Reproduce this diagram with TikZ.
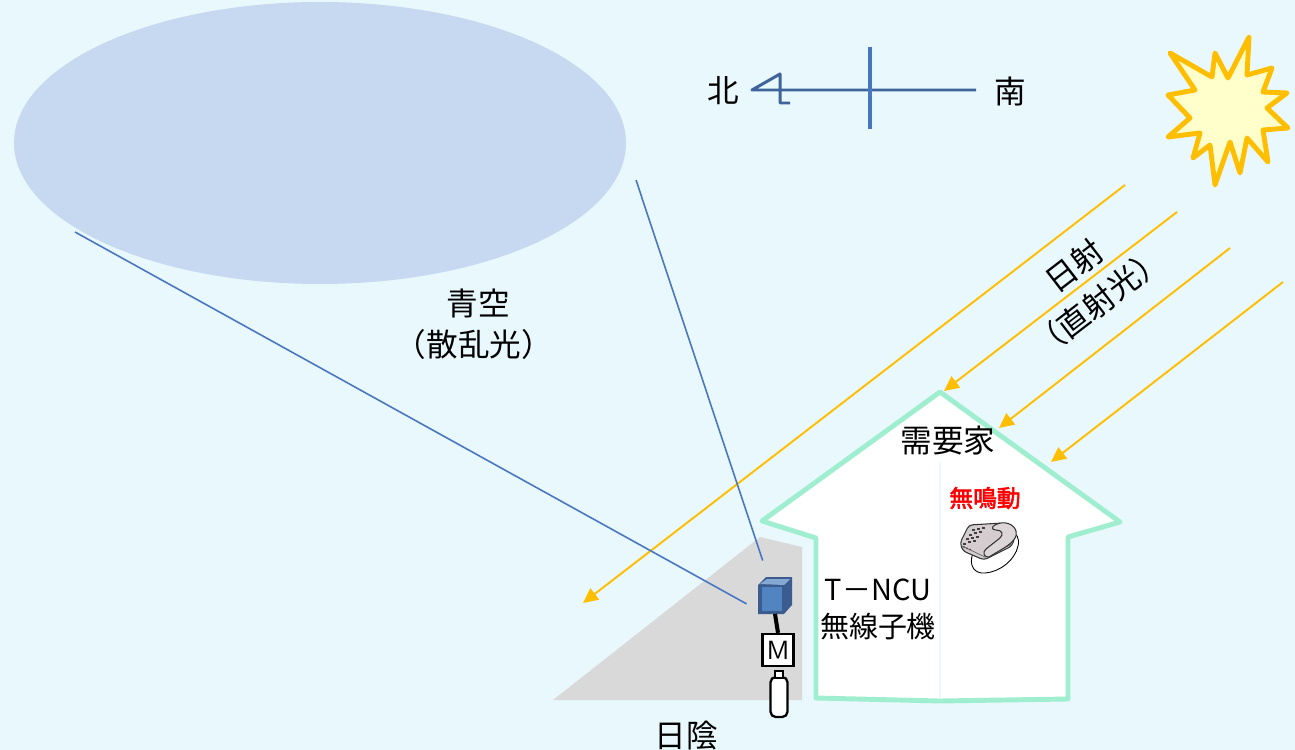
\documentclass[tikz,border=0pt]{standalone}
\usepackage{fontspec}
\setmainfont{Noto Sans CJK JP}
\newfontfamily\jpbold[FakeBold=2.5]{Noto Sans CJK JP}
\usetikzlibrary{arrows.meta}
\definecolor{skybg}{RGB}{233,248,252}
\definecolor{skyblue}{RGB}{198,217,240}
\definecolor{sunray}{RGB}{255,190,0}
\definecolor{sunfill}{RGB}{255,255,204}
\definecolor{mint}{RGB}{160,238,208}
\definecolor{viewblue}{RGB}{72,118,192}
\definecolor{compass}{RGB}{62,100,155}
\definecolor{shadegray}{RGB}{217,217,217}
\definecolor{cubedark}{RGB}{58,92,142}
\definecolor{cubeface}{RGB}{82,132,194}
\definecolor{phonegray}{RGB}{212,204,206}

\begin{document}
\begin{tikzpicture}[x=0.02cm,y=-0.02cm,font=\fontsize{18}{21}\selectfont,
  ray/.style={draw=sunray,line width=1.1pt,-{Triangle[length=8.5pt,width=8pt]}},
  view/.style={draw=viewblue,line width=0.9pt},
  lbl/.style={inner sep=1pt,align=center},
  meterbox/.style={draw=black,line width=1.3pt,fill=white,minimum width=0.62cm,minimum height=0.64cm,inner sep=0pt,font=\sffamily\fontsize{15}{15}\selectfont},
  gasbox/.style={draw=black,line width=1.3pt,fill=white,rounded corners=3pt,minimum width=0.34cm,minimum height=0.8cm,inner sep=0pt}]
  \fill[skybg] (0,0) rectangle (1295,750);
  \useasboundingbox (0,0) rectangle (1295,750);

  % sky dome and the shaded ground
  \fill[skyblue] (320,143) ellipse [x radius=306,y radius=141];
  \fill[shadegray] (553,700) -- (760,537) -- (802,547) -- (802,700) -- cycle;

  % house
  \draw[mint,line width=2.8pt,fill=white,line join=round]
    (940,392) -- (1120,522) -- (1068,537) -- (1068,699) -- (940,701)
    -- (816,698) -- (816,538) -- (762,521) -- cycle;
  \draw[skybg,line width=1.4pt] (940,462) -- (940,698);
  \coordinate (roof1) at (944,391);
  \coordinate (roof2) at (999,428);
  \coordinate (roof3) at (1051,462);

  % sun
  \filldraw[draw=sunray,fill=sunfill,line width=2.8pt,line join=round]
    (1249,37) -- (1247,75) -- (1272,68) -- (1263,92) -- (1287,93) -- (1267,108)
    -- (1288,128) -- (1263,130) -- (1268,162) -- (1247,138) -- (1240,173)
    -- (1230,142) -- (1215,185) -- (1210,145) -- (1193,158) -- (1200,133)
    -- (1168,137) -- (1190,118) -- (1168,95) -- (1195,90) -- (1170,53)
    -- (1212,77) -- (1215,53) -- (1228,78) -- cycle;

  % direct sunlight
  \coordinate (s0) at (1125,185);
  \coordinate (s1) at (1177,212);
  \coordinate (s2) at (1230,248);
  \coordinate (s3) at (1283,282);
  \coordinate (ground) at (583,603);
  \draw[ray] (s0) -- (ground);
  \draw[ray] (s1) -- (roof1);
  \draw[ray] (s2) -- (roof2);
  \draw[ray] (s3) -- (roof3);
  \node[lbl,rotate=37.6] (sunlbl) at (1074,266) {日射};
  \node[lbl,rotate=37.6] (sunsub) at (1099,302) {（直射光）};

  % compass
  \coordinate (north) at (752,90);
  \coordinate (south) at (976,90);
  \draw[compass,line width=1.7pt,line join=round] (790,103) -- (780,103) -- (780,74) -- (north) -- (south);
  \draw[viewblue,line width=2.2pt] (870,47) -- (870,129);
  \node[lbl] (nlbl) at (723,91) {北};
  \node[lbl] (slbl) at (1010,91) {南};

  % sky labels
  \node[lbl] (sky) at (478,304) {青空};
  \node[lbl] (skysub) at (474,344) {（散乱光）};
  \coordinate (skyw) at (75,232);
  \coordinate (skye) at (636,180);

  % T-NCU terminal, meter and gas cylinder
  \node[minimum size=0.7cm,inner sep=0pt] (tncu) at (775,596) {};
  \fill[cubedark] (758,585) -- (766,577) -- (792,577) -- (792,605) -- (784,614) -- (758,614) -- cycle;
  \fill[cubeface!70!white] (760,584) -- (767,579) -- (790,579) -- (784,585) -- cycle;
  \fill[cubeface] (762,587) rectangle (782,611);
  \node[meterbox] (meter) at (778,650) {M};
  \node[gasbox] (gas) at (779,697) {};
  \draw[black,line width=1.1pt,fill=white] (775,671) rectangle (783,678);
  \draw[black,line width=2.3pt] (tncu.south) -- (meter.north);
  \draw[view] (skyw) -- ([xshift=-6pt,yshift=-4.5pt]tncu.west);
  \draw[view] (skye) -- ([xshift=-7pt,yshift=10pt]tncu.north);

  \node[lbl] (house) at (948,441) {需要家};
  \node[lbl,font=\fontsize{16.5}{21}\selectfont] (tlbl) at (878,609) {T－NCU\\無線子機};
  \node[lbl,font=\jpbold\fontsize{13.5}{16}\selectfont,text=red] (mute) at (985,498) {無鳴動};
  \node[lbl] (shadow) at (686,736) {日陰};

  % telephone
  \draw[black,line width=0.5pt] (973,553) .. controls (968,566) and (975,574) .. (985,573)
    .. controls (1000,572) and (1015,560) .. (1018,546)
    .. controls (1020,538) and (1016,533) .. (1012,532);
  \filldraw[fill=phonegray,draw=black!80,line width=0.6pt,rounded corners=2pt]
    (960,543) -- (969,525) -- (1003,523) -- (1016,533) -- (1012,546) -- (984,560) -- (963,551) -- cycle;
  \draw[black!60,line width=0.4pt] (962,546) -- (985,557) -- (1012,544);
  \foreach \i in {0,1,2} \foreach \j in {0,1,2,3}
    \fill[black!75] (972+5*\i-3*\j,529-1.2*\i+4.5*\j) rectangle ++(3,2);
  \foreach \i in {0,1,2}
    \fill[black!75] (964+3*\i,547+1.2*\i) circle (0.9);
  \filldraw[fill=phonegray!80!white,draw=black!80,line width=0.6pt]
    (995,525) .. controls (1004,520) and (1014,524) .. (1016,531)
    .. controls (1018,537) and (1012,543) .. (1004,548)
    -- (989,557) .. controls (984,558) and (982,552) .. (986,549)
    -- (1000,538) .. controls (1004,534) and (1002,530) .. (996,530)
    .. controls (992,530) and (991,527) .. (995,525) -- cycle;
\end{tikzpicture}
\end{document}
